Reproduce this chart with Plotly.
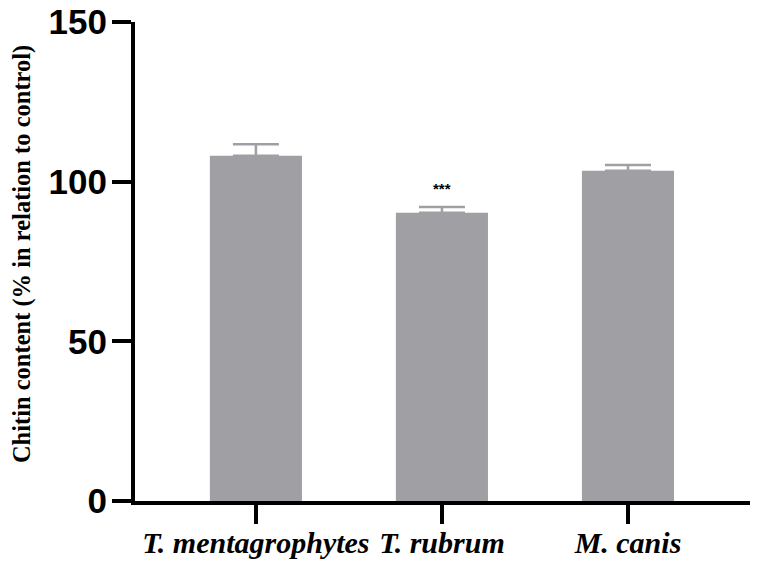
import plotly.graph_objects as go

categories = ["T. mentagrophytes", "T. rubrum", "M. canis"]
means = [108.1, 90.3, 103.4]
errors = [3.6, 1.8, 1.8]
significance = ["", "***", ""]
y_ticks = [0, 50, 100, 150]

xpos = list(range(len(categories)))
bar_color = "#a09fa4"

fig = go.Figure()
fig.add_trace(go.Bar(
    x=xpos, y=means, width=0.495,
    marker=dict(color=bar_color, line=dict(width=0)),
    error_y=dict(type="data", array=errors, arrayminus=[0] * len(errors),
                 symmetric=False, color=bar_color, thickness=2.5, width=23),
))

for xi, m, e, s in zip(xpos, means, errors, significance):
    if s:
        fig.add_annotation(x=xi, y=m + e, text="<b>" + s + "</b>", showarrow=False,
                           yanchor="bottom", yshift=8,
                           font=dict(family="Liberation Sans", size=15, color="black"))

fig.add_annotation(xref="paper", yref="paper", x=-0.1837, y=0.5155,
                   text="<b>Chitin content (% in relation to control)</b>",
                   textangle=-90, showarrow=False, xanchor="center", yanchor="middle",
                   font=dict(family="Liberation Serif", size=24.5, color="black"))

fig.update_layout(
    width=759, height=568,
    margin=dict(l=135, r=9, t=22, b=67),
    plot_bgcolor="white", paper_bgcolor="white",
    showlegend=False,
    xaxis=dict(range=[-0.65, 2.656], tickvals=xpos,
               ticktext=["<b><i>" + c + "</i></b>" for c in categories],
               showline=True, linecolor="black", linewidth=4,
               ticks="outside", ticklen=19, tickwidth=4, tickcolor="black",
               showgrid=False, zeroline=False, automargin=False, ticklabelstandoff=-7,
               ticklabeloverflow="allow",
               tickfont=dict(family="Liberation Serif", size=30, color="black")),
    yaxis=dict(range=[0, 150], tickvals=y_ticks,
               ticktext=["<b>" + str(t) + "</b>" for t in y_ticks],
               showline=True, linecolor="black", linewidth=4,
               ticks="outside", ticklen=19, tickwidth=4, tickcolor="black",
               showgrid=False, zeroline=False, ticklabelstandoff=-2, automargin=False,
               ticklabeloverflow="allow",
               tickfont=dict(family="Liberation Sans", size=35, color="black")),
)

fig.write_html("out.html", config={"displayModeBar": False},
               post_script="document.body.style.margin='0';")
